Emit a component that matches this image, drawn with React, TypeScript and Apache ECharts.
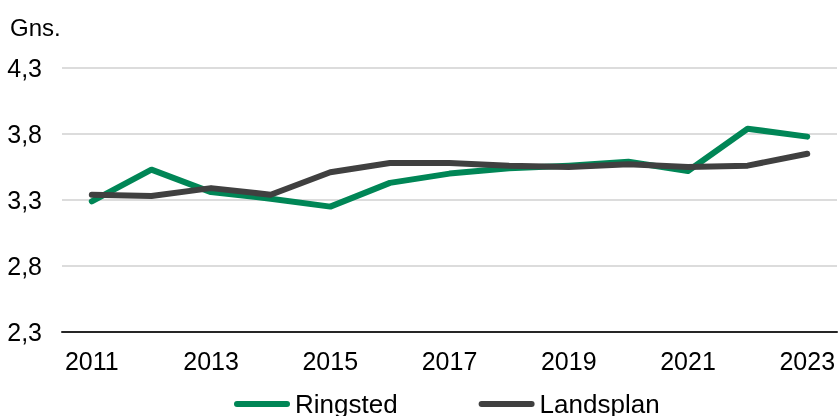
import React, { useEffect, useRef } from "react";
import * as echarts from "echarts";

const years = ["2011", "2012", "2013", "2014", "2015", "2016", "2017", "2018", "2019", "2020", "2021", "2022", "2023"];
const ringsted = [3.29, 3.53, 3.36, 3.31, 3.25, 3.43, 3.5, 3.54, 3.56, 3.59, 3.52, 3.84, 3.78];
const landsplan = [3.34, 3.33, 3.39, 3.34, 3.51, 3.58, 3.58, 3.56, 3.55, 3.57, 3.55, 3.56, 3.65];
const seriesNames = ["Ringsted", "Landsplan"];
const yUnit = "Gns.";

const FONT = "'Liberation Sans', Arial, sans-serif";
const capsule = "path://M3,0 L53,0 A3,3 0 0 1 53,6 L3,6 A3,3 0 0 1 3,0 Z";

export default function App() {
  const ref = useRef<HTMLDivElement>(null);
  useEffect(() => {
    if (!ref.current) return;
    const chart = echarts.init(ref.current, undefined, { renderer: "svg" });
    chart.setOption({
      animation: false,
      textStyle: { fontFamily: FONT, color: "#000" },
      grid: { left: 62, right: 0, top: 68, bottom: 84 },
      graphic: [
        {
          type: "text",
          left: 10,
          top: 15,
          style: { text: yUnit, font: `24px ${FONT}`, fill: "#000" },
        },
      ],
      legend: {
        top: 391,
        left: 234,
        padding: 0,
        itemWidth: 56,
        itemHeight: 6,
        itemGap: 81,
        data: [
          { name: seriesNames[0], icon: capsule },
          { name: seriesNames[1], icon: capsule },
        ],
        textStyle: { fontFamily: FONT, fontSize: 26, color: "#000" },
      },
      xAxis: {
        type: "category",
        data: years,
        boundaryGap: true,
        axisLine: { lineStyle: { color: "#262626", width: 2 } },
        axisTick: { show: false },
        axisLabel: {
          interval: 1,
          margin: 16,
          fontSize: 25,
          color: "#000",
          fontFamily: FONT,
        },
      },
      yAxis: {
        type: "value",
        min: 2.3,
        max: 4.3,
        interval: 0.5,
        axisLine: { show: false },
        axisTick: { show: false },
        splitLine: { lineStyle: { color: "#D0D0D0", width: 1.5 } },
        axisLabel: {
          margin: 20,
          fontSize: 25,
          color: "#000",
          fontFamily: FONT,
          formatter: (v: number) => v.toFixed(1).replace(".", ","),
        },
      },
      series: [
        {
          name: seriesNames[0],
          type: "line",
          data: ringsted,
          symbol: "none",
          color: "#008656",
          lineStyle: { width: 6, color: "#008656", cap: "round", join: "round" },
        },
        {
          name: seriesNames[1],
          type: "line",
          data: landsplan,
          symbol: "none",
          color: "#404040",
          lineStyle: { width: 6, color: "#404040", cap: "round", join: "round" },
        },
      ],
    });
    return () => chart.dispose();
  }, []);
  return (
    <div
      ref={ref}
      style={{ position: "fixed", left: 0, top: 0, width: 838, height: 416 }}
    />
  );
}
